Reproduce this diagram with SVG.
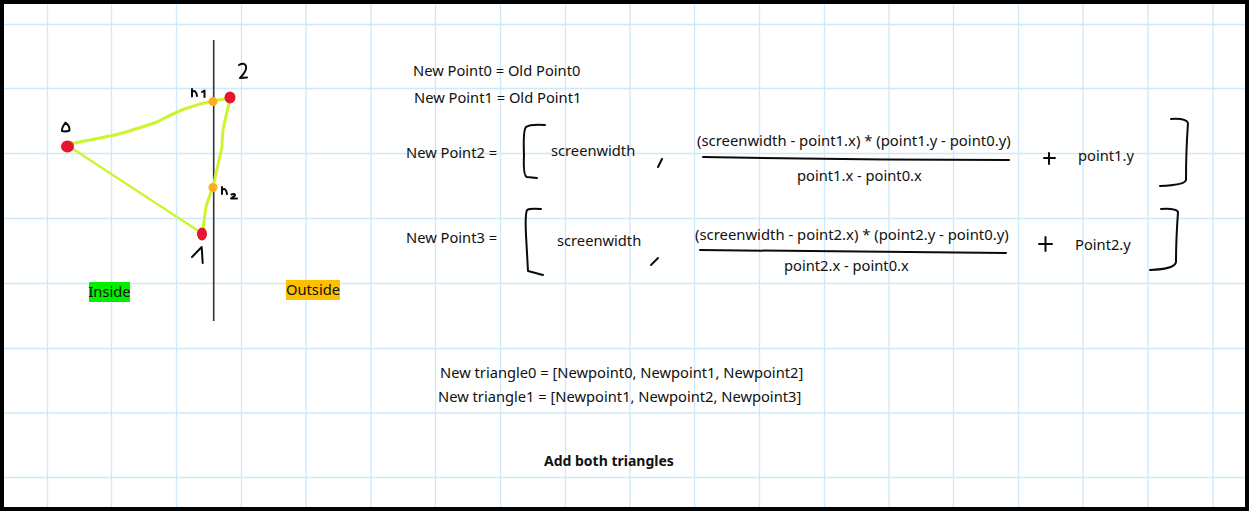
<svg xmlns="http://www.w3.org/2000/svg" width="1249" height="511" viewBox="0 0 1249 511">
<style>
.g{stroke:#cfe9f9;stroke-width:1.3;fill:none}
.t{font-family:"Noto Sans","Open Sans",sans-serif;font-size:14.7px;fill:#111}
.n{font-size:14.85px}
.b{font-size:14px;font-weight:700}
.ink{fill:none;stroke:#0a0a0a;stroke-width:2;stroke-linecap:round;stroke-linejoin:round}
.lime{fill:none;stroke:#cbf52e;stroke-linecap:round;stroke-linejoin:round}
</style>
<rect width="1249" height="511" fill="#fff"/>
<g id="grid">
<path class="g" d="M47.500 0V511M111.500 0V511M176.500 0V511M241.500 0V511M306 0V511M371 0V511M435.500 0V511M500.500 0V511M565.500 0V511M630 0V511M694.500 0V511M759.500 0V511M824.500 0V511M889 0V511M953.500 0V511M1018.500 0V511M1083 0V511M1148 0V511M1213 0V511M0 24.500H1249M0 88.500H1249M0 153.500H1249M0 218.500H1249M0 283.500H1249M0 348.500H1249M0 413H1249M0 477.500H1249"/>
</g>
<g id="connectors">
<path d="M213.700 40V321" fill="none" stroke="#333" stroke-width="1.600"/>
<path class="lime" stroke-width="3" d="M70 144L117 134.500Q140 128 157 122Q170 115 183 109.500Q198 104 213 101L230 98"/>
<path class="lime" stroke-width="3" d="M230 100Q226 115 223 130Q222 140 222 147L213 187Q208 200 206 207Q204 218 203 232"/>
<path class="lime" stroke-width="2.200" d="M70 147L200 232"/>
</g>
<g id="node-0"><ellipse cx="67.500" cy="146.500" rx="6.500" ry="6" fill="#e8152e"/><path class="ink" stroke-width="1.800" d="M65.500 122.500Q61.500 128 62 131Q66 132 69.500 130.500Q70 126 65.500 122.500Z"/></g>
<g id="node-1"><ellipse cx="202" cy="234" rx="5" ry="6.500" fill="#e8152e"/><path class="ink" d="M192 257L201.700 247L202.700 263"/></g>
<g id="node-2"><ellipse cx="230" cy="97.500" rx="5.500" ry="6" fill="#e8152e"/><path class="ink" d="M239 65Q244 62 246 66Q247 71 240 78L247 77.500"/></g>
<g id="node-h1"><circle cx="213" cy="101.500" r="4.500" fill="#fbb01a"/><path class="ink" stroke-width="1.500" d="M192 89V96.500M192 92Q196 89 197 96M202 92L204.500 90.500V97"/></g>
<g id="node-h2"><circle cx="213" cy="187.500" r="4.500" fill="#fbb01a"/><path class="ink" stroke-width="1.500" d="M222 187V194M222 190Q226 187 227 194M231.500 194.500Q235 193 235 195.500L231 198.500H237"/></g>
<g id="label-inside"><rect x="89" y="282" width="41" height="20" fill="#00f000"/><text class="t" x="109.500" y="297" text-anchor="middle">Inside</text></g>
<g id="label-outside"><rect x="286" y="280" width="54" height="20" fill="#ffc000"/><text class="t" x="313" y="295" text-anchor="middle">Outside</text></g>
<g id="eq0"><text class="t" x="413" y="76">New Point0 = Old Point0</text></g>
<g id="eq1"><text class="t" x="414" y="103">New Point1 = Old Point1</text></g>
<g id="eq2">
<text class="t" x="406" y="158">New Point2 =</text>
<path class="ink" d="M545 125Q530 124 526 127Q523 130 524 155Q523 176 527 177L537 178"/>
<text class="t" x="551" y="156">screenwidth</text>
<path class="ink" d="M662 159L658 167"/>
<text class="t n" x="697" y="146">(screenwidth - point1.x) * (point1.y - point0.y)</text>
<path class="ink" d="M703 157Q850 160 1009 160"/>
<text class="t" x="797" y="181">point1.x - point0.x</text>
<path class="ink" d="M1044 158H1055M1049 153V164"/>
<text class="t" x="1078" y="161">point1.y</text>
<path class="ink" d="M1171 119Q1186 118 1188 123Q1186 150 1186 180Q1185 185 1160 186"/>
</g>
<g id="eq3">
<text class="t" x="406" y="243">New Point3 =</text>
<path class="ink" d="M541 209Q530 208 527 210Q525 215 526 235L528 271L543 275"/>
<text class="t" x="557" y="246">screenwidth</text>
<path class="ink" d="M658 258L651 265"/>
<text class="t n" x="695" y="240">(screenwidth - point2.x) * (point2.y - point0.y)</text>
<path class="ink" d="M700 250Q850 252 1006 253"/>
<text class="t" x="784" y="271">point2.x - point0.x</text>
<path class="ink" d="M1039 244H1052M1045.500 237V251"/>
<text class="t" x="1075" y="250">Point2.y</text>
<path class="ink" d="M1161 209Q1176 208 1178 212Q1176 240 1176 262Q1175 269 1150 270"/>
</g>
<g id="tri0"><text class="t" x="440" y="378">New triangle0 = [Newpoint0, Newpoint1, Newpoint2]</text></g>
<g id="tri1"><text class="t" x="438" y="402">New triangle1 = [Newpoint1, Newpoint2, Newpoint3]</text></g>
<g id="add"><text class="t b" x="544" y="466">Add both triangles</text></g>
<rect id="frame" x="2" y="2" width="1245" height="507" fill="none" stroke="#000" stroke-width="4"/>
</svg>
